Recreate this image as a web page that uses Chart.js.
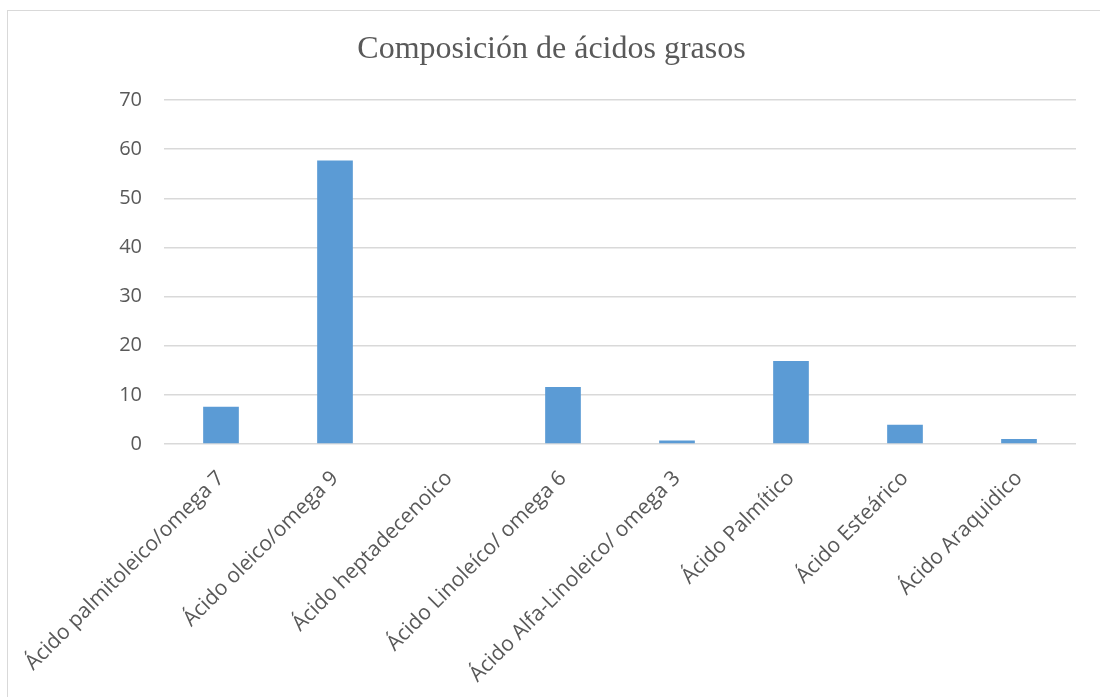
<!DOCTYPE html>
<html>
<head>
<meta charset="utf-8">
<script src="https://cdn.jsdelivr.net/npm/chart.js@4/dist/chart.umd.min.js"></script>
<style>
  html, body { margin: 0; padding: 0; background: #fff; }
  #wrap { position: relative; width: 1100px; height: 697px; overflow: hidden; }
  #frame {
    position: absolute; left: 7px; top: 10px;
    width: 1120px; height: 720px;
    border: 1.5px solid #d9d9d9; box-sizing: border-box;
  }
  canvas { position: absolute; left: 0; top: 0; }
</style>
</head>
<body>
<div id="wrap">
  <div id="frame"></div>
  <canvas id="chart" width="1100" height="697"></canvas>
</div>
<script>
// Fatty acid composition
const acidos = [
    'Ácido palmitoleico/omega 7',
    'Ácido oleico/omega 9',
    'Ácido heptadecenoico',
    'Ácido Linoleíco/ omega 6',
    'Ácido Alfa-Linoleico/ omega 3',
    'Ácido Palmítico',
    'Ácido Esteárico',
    'Ácido Araquidico'
];
const porcentajes = [7.6, 57.7, 0, 11.6, 0.7, 16.9, 3.9, 1.0];
const yTicks = [0, 10, 20, 30, 40, 50, 60, 70];

const tickColor = '#595959';
const gridColor = '#d9d9d9';
const sansFamily = "'Open Sans', 'Noto Sans', sans-serif";

const ctx = document.getElementById('chart');
new Chart(ctx, {
    type: 'bar',
    data: {
        labels: acidos,
        datasets: [{
            data: porcentajes,
            backgroundColor: '#5b9bd5',
            categoryPercentage: 1,
            barPercentage: 0.313
        }]
    },
    options: {
        responsive: false,
        animation: false,
        layout: { padding: { left: 27, right: 24, top: 0, bottom: 0 } },
        plugins: {
            legend: { display: false },
            tooltip: { enabled: false },
            title: {
                display: true,
                text: 'Composición de ácidos grasos',
                color: tickColor,
                font: { family: "'Liberation Serif', 'DejaVu Serif', serif", size: 32, weight: 'normal', lineHeight: 1.2 },
                padding: { top: 30, bottom: 31.6 }
            }
        },
        scales: {
            x: {
                grid: { display: false },
                border: { display: false },
                ticks: {
                    color: tickColor,
                    font: { family: sansFamily, size: 21 },
                    minRotation: 45,
                    maxRotation: 45,
                    autoSkip: false,
                    padding: 14
                },
                afterFit: (scale) => { scale.height = 253; }
            },
            y: {
                min: 0,
                max: 70,
                afterBuildTicks: (scale) => {
                    scale.ticks = yTicks.map(v => ({ value: v }));
                },
                grid: { color: gridColor, lineWidth: 1.5, drawTicks: false },
                border: { display: false },
                ticks: {
                    color: tickColor,
                    font: { family: sansFamily, size: 20 },
                    padding: 22
                },
                afterFit: (scale) => { scale.width = 137; }
            }
        }
    }
});
</script>
</body>
</html>
